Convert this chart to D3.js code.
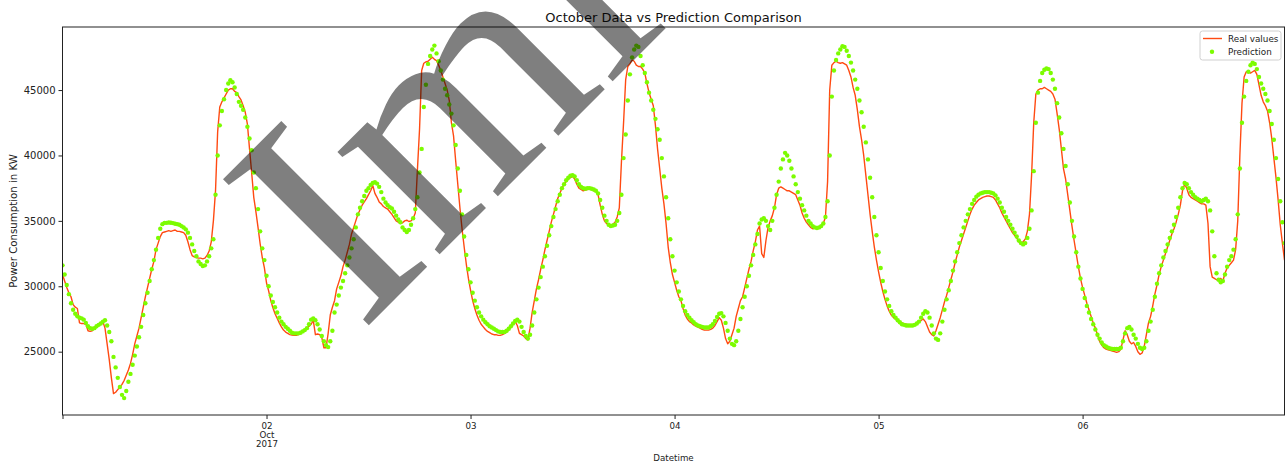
<!DOCTYPE html>
<html><head><meta charset="utf-8">
<script src="https://cdn.jsdelivr.net/npm/d3@7"></script>
<style>
body{margin:0;background:#fff}
svg{display:block}
</style>
</head><body>
<svg id="chart" width="1286" height="462"></svg>
<script>
const chartTitle = "October Data vs Prediction Comparison";
const xAxisLabel = "Datetime";
const yAxisLabel = "Power Consumption in KW";
const seriesNames = ["Real values", "Prediction"];
const startTime = [2017, 9, 1, 0, 0];   // 2017-10-01 00:00
const stepMinutes = 15;
const yTicks = [25000, 30000, 35000, 40000, 45000];
const xTickDays = [1, 2, 3, 4, 5, 6];
const xTickLabels = ["", "02", "03", "04", "05", "06"];
const xTickSubLabels = ["", "Oct", "", "", "", ""];
const xTickSubLabels2 = ["", "2017", "", "", "", ""];
const watermarkGlyphs = ["I", "m", "l"];

// Real values, 15-minute steps, Oct 1 00:00 .. Oct 6 23:45
const realValues = [
 30900,30400,29900,29500, 29200,28600,28400,28300, 27200,27150,27150,27100, 26600,26550,26600,26750, 26950,27050,27100,27300, 26800,25600,24400,23000,
 21800,21900,22100,22300, 22500,22800,23200,23600, 24100,24800,25600,26200, 26800,27600,28400,29200, 29900,30600,31300,31900, 32800,33300,33800,34100,
 34150,34200,34250,34200, 34250,34300,34200,34200, 34150,34100,33900,33400, 32800,32350,32250,32200, 32150,32150,32100,32150, 32350,32700,33400,35000,
 37300,41800,43700,44100, 44400,44700,45000,45100, 45100,44900,44800,44500, 44250,43800,43300,42400, 40500,38700,36800,35700, 34500,33250,32200,31400,
 30250,29650,28900,28350, 27900,27550,27200,26900, 26650,26500,26400,26300, 26280,26250,26250,26300, 26450,26550,26650,26800, 26950,27100,27400,26300,
 26350,26300,26100,25300, 25300,26400,27800,28400, 28900,29800,30300,30800, 31500,32000,32600,33200, 34000,34500,35000,35500, 35850,36200,36450,36700,
 37000,37300,37700,37100, 36800,36450,36300,36100, 36000,35900,35700,35500, 35250,35000,34900,34800, 34850,35000,35050,34950, 35000,35200,35600,38900,
 42000,46500,47050,47150, 47200,47350,47500,47350, 47250,46900,46500,46000, 45500,45000,44200,42500, 41500,39600,37800,36000, 34400,33000,31700,30600,
 29700,28900,28300,27800, 27400,27100,26900,26700, 26550,26450,26350,26300, 26300,26250,26250,26300, 26400,26500,26700,26900, 27100,27300,27000,26400,
 26300,26200,26000,25900, 26800,28000,28900,29800, 30500,31300,32000,32800, 33500,34200,34900,35500, 36100,36700,37100,37500, 37800,38000,38200,38300,
 38400,38200,37800,37500, 37400,37300,37350,37400, 37450,37400,37300,37350, 37000,36200,35500,35000, 34800,34700,34650,34750, 34900,35300,36000,39500,
 42500,45800,46800,47000, 47300,47200,46900,46800, 46800,46600,46300,45500, 44800,44300,43800,42300, 40500,39000,37500,36300, 34800,33000,31800,30900,
 30300,29700,29200,28900, 28300,27800,27500,27300, 27200,27050,26950,26880, 26800,26700,26650,26650, 26650,26700,26800,27000, 27300,27600,27400,26800,
 26000,25600,25800,26300, 26800,27700,28300,28900, 29200,29900,30600,31300, 31900,32700,33400,34300, 34600,32500,32200,33500, 34500,35000,35400,36000,
 37000,37500,37600,37500, 37400,37300,37300,37200, 37100,37000,36600,36200, 35600,35200,34900,34700, 34500,34400,34450,34500, 34500,34600,34800,35300,
 38000,45000,46900,47100, 47200,47100,47050,47100, 47000,46900,46500,46000, 45200,44600,43500,42200, 41200,40000,38500,37000, 35500,34200,33000,32000,
 31100,30300,29600,29000, 28500,28100,27800,27600, 27500,27400,27300,27200, 27150,27100,27050,27050, 27050,27100,27200,27300, 27400,27500,27300,26900,
 26500,26300,26200,26600, 27100,27600,28200,28800, 29300,29900,30500,31100, 31800,32400,33000,33500, 34000,34500,35000,35500, 35900,36200,36400,36600,
 36700,36800,36850,36900, 36900,36850,36800,36600, 36300,36000,35600,35300, 35000,34700,34400,34100, 33900,33700,33400,33300, 33400,33600,34200,35500,
 38500,42500,44700,45000, 45100,45100,45200,45100, 45000,44900,44700,44300, 43200,42000,40500,39000, 38200,37000,35800,34600, 33500,32500,31500,30600,
 29900,29300,28700,28200, 27700,27200,26800,26300, 25800,25500,25300,25200, 25150,25100,25050,25000, 24950,25000,25200,25900, 26600,26300,25800,25600,
 25700,25400,25000,24800, 24900,25400,26300,27200, 27700,28500,29400,30100, 30900,31500,32000,32500, 33000,33500,34000,34400, 34900,35500,36200,37300,
 37800,37500,37000,36800, 36700,36600,36500,36400, 36300,36300,36200,34800, 31500,30700,30600,30500, 30500,30600,30400,31000, 31400,31600,31800,32000,
 32800,35000,40000,44000, 46000,46400,46400,46300, 46400,46500,46200,45400, 44600,44100,43800,43400, 42500,41300,39800,38300, 36600,34700,33300,32000
];

// Prediction, same timestamps
const predValues = [
 31600,30900,30100,29400, 28700,28200,27900,27700, 27600,27550,27450,27200, 26950,26800,26750,26800, 26950,27050,27150,27300, 27400,27000,26500,25800,
 24600,23800,23000,22300, 21700,21450,22000,22700, 23300,24000,24700,25400, 26100,26900,27800,28700, 29500,30400,31300,32000, 32800,33700,34400,34750,
 34850,34850,34870,34860, 34830,34780,34750,34700, 34600,34500,34350,34100, 33700,33200,32700,32300, 31900,31700,31550,31600, 31900,32300,32900,33600,
 37000,40000,42300,43400, 44300,45000,45500,45750, 45600,45200,44700,44100, 43800,43500,42900,42200, 41300,40400,38700,37500, 35900,34200,32900,32000,
 30800,30000,29300,28800, 28400,28000,27600,27300, 27100,26900,26750,26600, 26450,26400,26400,26400, 26450,26550,26650,26800, 27100,27450,27550,27400,
 27100,26700,26200,25800, 25500,25350,25800,26600, 28000,28600,29300,29900, 30400,31000,31600,32200, 32900,33600,34500,35500, 36000,36500,36900,37300,
 37500,37750,37900,37950, 37850,37600,37200,36700, 36400,36200,36050,35950, 35700,35400,35100,34900, 34500,34300,34150,34300, 34700,35200,35900,36800,
 38700,40500,43700,45400, 47000,47600,48100,48400, 47800,47200,46500,45800, 45100,44600,43900,43200, 42300,40800,39000,37300, 35500,33800,32400,31300,
 30300,29500,28900,28400, 28000,27700,27450,27250, 27100,26950,26850,26750, 26650,26550,26500,26500, 26500,26600,26750,26950, 27150,27350,27450,27300,
 26900,26500,26200,26000, 26300,27000,28000,29000, 29900,30700,31500,32300, 33100,33900,34600,35300, 35900,36500,37000,37500, 37800,38100,38300,38450,
 38500,38400,38100,37800, 37600,37500,37450,37500, 37500,37450,37400,37300, 37100,36600,36000,35400, 35000,34700,34600,34650, 34700,35000,35600,37000,
 39800,41600,44200,46200, 47500,48100,48400,48300, 47600,46900,46300,45600, 44800,44200,43500,42800, 42000,41200,39800,38400, 36800,35200,33600,32300,
 31200,30300,29600,29000, 28500,28100,27800,27600, 27400,27250,27100,27000, 26950,26900,26850,26850, 26850,26950,27100,27350, 27650,27900,27950,27700,
 27200,26600,26000,25600, 25500,25800,26600,27500, 28400,29200,30000,30800, 31600,32400,33200,34000, 34800,35100,35200,35000, 34600,34300,35000,36000,
 37000,38000,39000,39700, 40200,40000,39600,39000, 38400,37800,37200,36700, 36200,35800,35400,35000, 34800,34600,34500,34450, 34500,34600,34800,35300,
 36500,40000,44500,46500, 47300,47800,48100,48350, 48300,48000,47600,47100, 46500,45800,45100,44200, 43300,42200,41000,39700, 38300,36800,35300,33900,
 32600,31400,30400,29600, 29000,28500,28100,27800, 27600,27400,27250,27100, 27050,27000,27000,27000, 27000,27050,27150,27300, 27600,27900,28100,28000,
 27600,27000,26400,26000, 25900,26400,27300,28200, 29000,29700,30400,31200, 31900,32600,33300,33900, 34500,35000,35500,35900, 36300,36600,36850,37000,
 37100,37150,37200,37200, 37200,37150,37100,36950, 36700,36400,36000,35700, 35300,35000,34700,34400, 34100,33800,33500,33300, 33200,33300,33700,34400,
 35800,38800,42500,44800, 45700,46300,46550,46650, 46600,46300,45800,45100, 44000,42900,41700,40500, 39200,37800,36400,35000, 33800,32600,31500,30600,
 29800,29100,28500,28000, 27500,27100,26700,26300, 26000,25700,25500,25400, 25300,25250,25200,25200, 25200,25200,25300,25800, 26400,26800,26900,26700,
 26300,26000,25600,25300, 25200,25300,25800,26600, 27300,28200,29200,30200, 31000,31600,32200,32700, 33200,33700,34200,34700, 35300,36000,36800,37500,
 37900,37800,37500,37200, 37000,36800,36700,36600, 36500,36600,36700,36500, 35800,34200,32300,31000, 30500,30300,30400,30900, 31500,32000,32300,32800,
 33600,35500,39000,42500, 44500,45700,46400,46900, 47100,47000,46600,46000, 45500,45100,44700,44200, 43400,42400,41200,39800, 38200,36500,34900,33300
];

const FONT = "DejaVu Sans";
const plot = {left: 62.5, right: 1284.5, top: 27, bottom: 415};
const svg = d3.select("#chart");

const t0 = new Date(startTime[0], startTime[1], startTime[2], startTime[3], startTime[4]);
const times = realValues.map((_, i) => new Date(t0.getTime() + i * stepMinutes * 60000));
const rows = times.map((t, i) => ({t, real: realValues[i], pred: predValues[i]}));

const x = d3.scaleTime().domain([times[0], times[times.length - 1]]).range([plot.left, plot.right]);
const y = d3.scaleLinear().domain([20160, 49820]).range([plot.bottom, plot.top]);

svg.append("defs").append("clipPath").attr("id", "clip")
  .append("rect").attr("x", plot.left).attr("y", plot.top)
  .attr("width", plot.right - plot.left).attr("height", plot.bottom - plot.top);

const g = svg.append("g").attr("clip-path", "url(#clip)");

g.append("path").datum(rows)
  .attr("fill", "none").attr("stroke", "#ff4a12").attr("stroke-width", 1.4)
  .attr("stroke-linejoin", "round")
  .attr("d", d3.line().x(d => x(d.t)).y(d => y(d.real)));

g.selectAll("circle.pred").data(rows).join("circle").attr("class", "pred")
  .attr("cx", d => x(d.t)).attr("cy", d => y(d.pred)).attr("r", 2.2)
  .attr("fill", "#7cfc00");

svg.append("rect").attr("x", plot.left).attr("y", plot.top)
  .attr("width", plot.right - plot.left).attr("height", plot.bottom - plot.top)
  .attr("fill", "none").attr("stroke", "#222").attr("stroke-width", 1);

const yAxis = d3.axisLeft(y).tickValues(yTicks).tickSize(4).tickPadding(3).tickFormat(d3.format("d"));
const yg = svg.append("g").attr("transform", `translate(${plot.left},0)`).call(yAxis);
yg.select(".domain").remove();
yg.attr("font-family", FONT).attr("font-size", 10);
yg.selectAll("line").attr("stroke", "#222");
yg.selectAll("text").attr("fill", "#222");

const tickDates = xTickDays.map(d => new Date(2017, 9, d, 0, 0));
const xAxis = d3.axisBottom(x).tickValues(tickDates).tickSize(4).tickPadding(4)
  .tickFormat((d, i) => xTickLabels[i]);
const xg = svg.append("g").attr("transform", `translate(0,${plot.bottom})`).call(xAxis);
xg.select(".domain").remove();
xg.attr("font-family", FONT).attr("font-size", 8.7);
xg.selectAll("line").attr("stroke", "#222");
xg.selectAll("text").attr("fill", "#222");
xg.selectAll(".tick").each(function(d, i) {
  const tk = d3.select(this);
  if (xTickSubLabels[i]) tk.append("text").attr("y", 22.5).attr("text-anchor", "middle")
    .attr("fill", "#222").text(xTickSubLabels[i]);
  if (xTickSubLabels2[i]) tk.append("text").attr("y", 31.5).attr("text-anchor", "middle")
    .attr("fill", "#222").text(xTickSubLabels2[i]);
});

const cx = (plot.left + plot.right) / 2;
svg.append("text").attr("x", cx).attr("y", 21.5).attr("text-anchor", "middle")
  .attr("font-family", FONT).attr("font-size", 13).attr("fill", "#111").text(chartTitle);
svg.append("text").attr("x", cx).attr("y", 460.5).attr("text-anchor", "middle")
  .attr("font-family", FONT).attr("font-size", 8.7).attr("fill", "#222").text(xAxisLabel);
svg.append("text").attr("transform", `translate(17,${(plot.top + plot.bottom) / 2}) rotate(-90)`)
  .attr("text-anchor", "middle").attr("font-family", FONT).attr("font-size", 10.2)
  .attr("fill", "#222").text(yAxisLabel);

const lg = svg.append("g").attr("font-family", FONT).attr("font-size", 8.8);
lg.append("rect").attr("x", 1200).attr("y", 31).attr("width", 81).attr("height", 29)
  .attr("rx", 2.5).attr("fill", "#fff").attr("fill-opacity", 0.85).attr("stroke", "#d0d0d0").attr("stroke-width", 1);
lg.append("line").attr("x1", 1203).attr("x2", 1222).attr("y1", 38.5).attr("y2", 38.5)
  .attr("stroke", "#ff4a12").attr("stroke-width", 1.4);
lg.append("circle").attr("cx", 1212).attr("cy", 51.7).attr("r", 2.2).attr("fill", "#7cfc00");
lg.append("text").attr("x", 1228).attr("y", 41.6).attr("fill", "#222").text(seriesNames[0]);
lg.append("text").attr("x", 1228).attr("y", 55).attr("fill", "#222").text(seriesNames[1]);

// watermark: semi-transparent black serif letters, rotated
const wmSize = 315;
const wm = svg.append("g").attr("transform", "translate(360.8,333.2) rotate(-45)");
wm.append("text").attr("x", 0).attr("y", 0)
  .style("font-family", "'Liberation Serif', 'DejaVu Serif', serif")
  .style("font-size", wmSize + "px")
  .attr("fill", "#000").attr("fill-opacity", 0.5)
  .text(watermarkGlyphs.join(""));
</script>
</body></html>
